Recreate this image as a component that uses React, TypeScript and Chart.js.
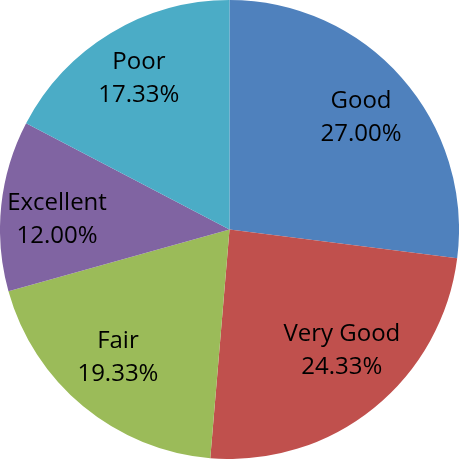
import React, { useEffect, useRef } from "react";
import { Chart, registerables } from "chart.js";

Chart.register(...registerables);

const categories = ["Good", "Very Good", "Fair", "Excellent", "Poor"];
const values = [27.0, 24.33, 19.33, 12.0, 17.33];
const percentLabels = ["27.00%", "24.33%", "19.33%", "12.00%", "17.33%"];
const colors = ["#4F81BD", "#C0504D", "#9BBB59", "#8064A2", "#4BACC6"];
// label placement: fraction of radius and angular nudge (degrees) per slice
const labelRadius = [0.754, 0.718, 0.738, 0.753, 0.769];
const labelAngleNudge = [0.85, -4, 1.6, -2.5, 0.3];

const labelPlugin = {
  id: "sliceLabels",
  afterDatasetsDraw(chart: any) {
    const ctx = chart.ctx;
    const meta = chart.getDatasetMeta(0);
    ctx.save();
    ctx.fillStyle = "#000";
    ctx.font = "24px 'Open Sans'";
    ctx.textAlign = "center";
    ctx.textBaseline = "middle";
    meta.data.forEach((arc: any, i: number) => {
      const { x, y, startAngle, endAngle, outerRadius } = arc.getProps(
        ["x", "y", "startAngle", "endAngle", "outerRadius"],
        true
      );
      const mid = (startAngle + endAngle) / 2 + (labelAngleNudge[i] * Math.PI) / 180;
      const r = outerRadius * labelRadius[i];
      const cx = x + Math.cos(mid) * r;
      const cy = y + Math.sin(mid) * r;
      ctx.fillText(categories[i], cx, cy - 16);
      ctx.fillText(percentLabels[i], cx, cy + 17);
    });
    ctx.restore();
  },
};

export default function App() {
  const ref = useRef<HTMLCanvasElement>(null);
  useEffect(() => {
    if (!ref.current) return;
    const chart = new Chart(ref.current, {
      type: "pie",
      data: {
        labels: categories,
        datasets: [
          {
            data: values,
            backgroundColor: colors,
            borderWidth: 0,
          },
        ],
      },
      options: {
        responsive: false,
        animation: false,
        layout: { padding: 0 },
        plugins: {
          legend: { display: false },
          tooltip: { enabled: false },
        },
      },
      plugins: [labelPlugin],
    });
    return () => chart.destroy();
  }, []);
  return (
    <div style={{ position: "fixed", left: 0, top: 0, width: 459, height: 460, background: "#fff" }}>
      <canvas ref={ref} width={459} height={459} style={{ display: "block" }} />
    </div>
  );
}
